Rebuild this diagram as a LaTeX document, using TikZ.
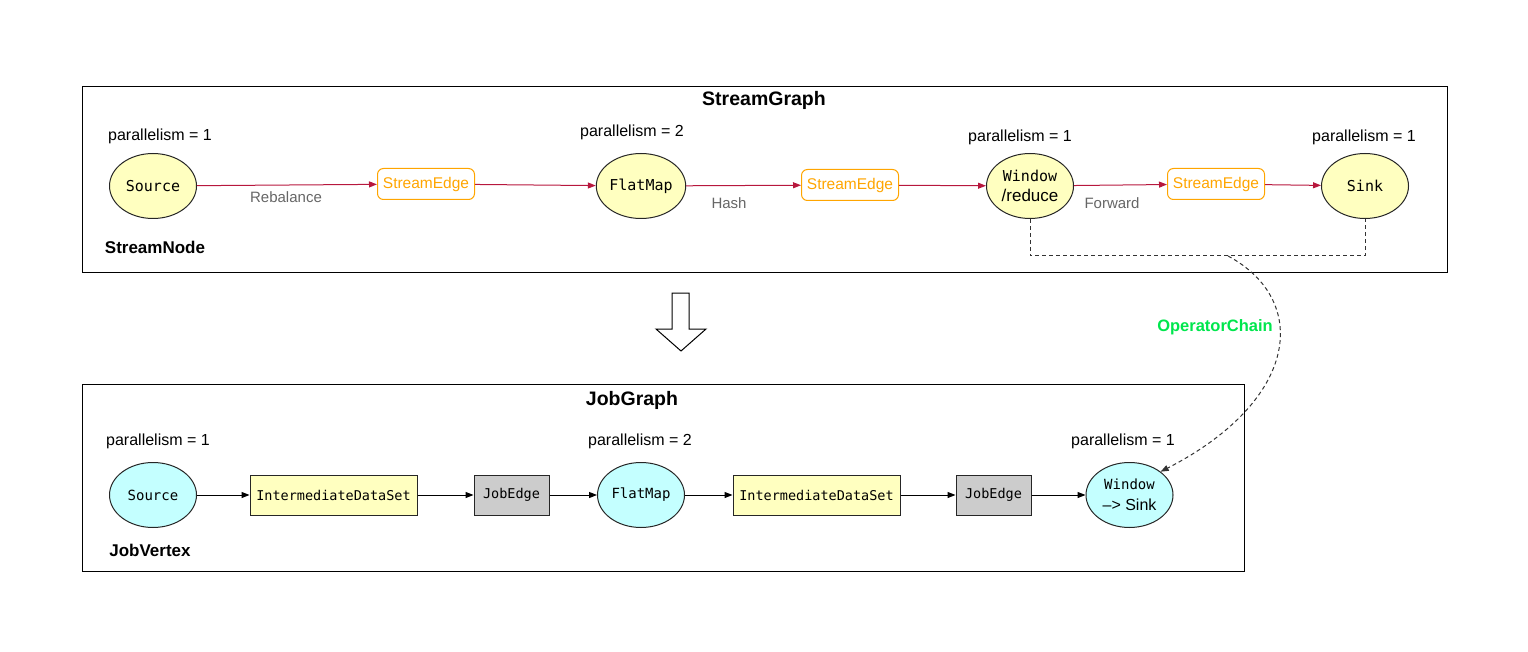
\documentclass[tikz,border=0pt]{standalone}
\usepackage{fontspec}
\setmainfont{Liberation Sans}
\setmonofont{DejaVu Sans Mono}
\usetikzlibrary{shapes.geometric,arrows.meta}

\definecolor{nodeyellow}{HTML}{FFFFC0}
\definecolor{nodecyan}{HTML}{C4FFFF}
\definecolor{edgegray}{HTML}{CCCCCC}
\definecolor{edgeorange}{HTML}{FFA500}
\definecolor{flowred}{HTML}{B7173D}
\definecolor{chaingreen}{HTML}{00E64D}

\begin{document}
\begin{tikzpicture}[x=1pt,y=-1pt,line width=1pt,
    ptext/.style={font=\fontsize{16}{19}\selectfont},
    title/.style={font=\fontsize{19.5}{23}\selectfont\bfseries},
    kind/.style={font=\fontsize{17}{20}\selectfont\bfseries},
    elabel/.style={text=black!60,font=\fontsize{15}{18}\selectfont},
    snode/.style={ellipse,draw=black!85,fill=nodeyellow,minimum width=87pt,
      minimum height=65pt,inner sep=0pt,font=\fontsize{15}{20}\selectfont\ttfamily},
    jvertex/.style={snode,fill=nodecyan,font=\fontsize{14}{21}\selectfont\ttfamily},
    sedge/.style={rectangle,rounded corners=6pt,draw=edgeorange,text=edgeorange,
      minimum width=97pt,minimum height=31pt,inner sep=0pt,font=\fontsize{15.5}{18}\selectfont},
    dataset/.style={rectangle,draw=black!85,fill=nodeyellow,minimum width=167pt,
      minimum height=40pt,inner sep=0pt,font=\fontsize{13.5}{16}\selectfont\ttfamily},
    jedge/.style={dataset,fill=edgegray,minimum width=75pt},
    redarrow/.style={draw=flowred,-{Triangle[length=8pt,width=6pt]}},
    blackarrow/.style={draw=black,-{Triangle[length=8pt,width=6pt]}},
    chainline/.style={draw=black!80,dash pattern=on 4pt off 3pt}]

  \useasboundingbox (0,0) rectangle (1528,652);

  % StreamGraph
  \draw (82,87) rectangle (1447,273);
  \node[title] (sgtitle) at (764,100) {StreamGraph};

  \node[ptext] (psrc) at (160,136) {parallelism = 1};
  \node[snode] (src) at (153,186) {Source};
  \node[sedge] (se1) at (426,184) {StreamEdge};
  \node[ptext] (pflat) at (632,132) {parallelism = 2};
  \node[snode] (flat) at (641,186) {FlatMap};
  \node[sedge] (se2) at (850,185) {StreamEdge};
  \node[ptext] (pwin) at (1020,137) {parallelism = 1};
  \node[snode,align=center] (win) at (1030,186)
    {Window\\{\rmfamily\fontsize{17}{20}\selectfont /reduce}};
  \node[sedge] (se3) at (1216,184) {StreamEdge};
  \node[ptext] (psink) at (1364,137) {parallelism = 1};
  \node[snode] (sink) at (1365,186) {Sink};
  \node[kind] (snodelbl) at (155,247) {StreamNode};

  \draw[redarrow] (src) -- (se1);
  \draw[redarrow] (se1) -- (flat);
  \draw[redarrow] (flat) -- (se2);
  \draw[redarrow] (se2) -- (win);
  \draw[redarrow] (win) -- (se3);
  \draw[redarrow] (se3) -- (sink);

  \node[elabel] (lreb) at (286,197) {Rebalance};
  \node[elabel] (lhash) at (729,203) {Hash};
  \node[elabel] (lfwd) at (1112,203) {Forward};

  % chain of window and sink
  \coordinate (chain) at (1228,256);
  \draw[chainline] (win.south) |- (chain) -| (sink.south);

  % transform arrow
  \draw[fill=white] (672,293) -- (689,293) -- (689,329) -- (706,329)
    -- (681,351) -- (656,329) -- (672,329) -- cycle;

  % JobGraph
  \draw (82,384) rectangle (1244,571);
  \node[title] (jgtitle) at (632,400) {JobGraph};

  \node[ptext] (pjsrc) at (158,441) {parallelism = 1};
  \node[jvertex] (jsrc) at (153,495) {Source};
  \node[dataset] (ds1) at (333.5,495) {IntermediateDataSet};
  \node[jedge] (je1) at (511.5,495) {JobEdge};
  \node[ptext] (pjflat) at (640,441) {parallelism = 2};
  \node[jvertex] (jflat) at (641,495) {FlatMap};
  \node[dataset] (ds2) at (816.5,495) {IntermediateDataSet};
  \node[jedge] (je2) at (993.5,495) {JobEdge};
  \node[ptext] (pjwin) at (1123,441) {parallelism = 1};
  \node[jvertex,align=center] (jwin) at (1129.5,495)
    {Window\\{\rmfamily\fontsize{16}{21}\selectfont \textendash> Sink}};
  \node[kind] (jvertlbl) at (150,550) {JobVertex};

  \draw[blackarrow] (jsrc) -- (ds1);
  \draw[blackarrow] (ds1) -- (je1);
  \draw[blackarrow] (je1) -- (jflat);
  \draw[blackarrow] (jflat) -- (ds2);
  \draw[blackarrow] (ds2) -- (je2);
  \draw[blackarrow] (je2) -- (jwin);

  % operator chain
  \draw[chainline,-{Triangle[length=8pt,width=6pt]}] (chain)
    .. controls (1310,300) and (1300,400) .. (jwin.north east);
  \node[text=chaingreen,font=\fontsize{16.5}{20}\selectfont\bfseries] (lchain)
    at (1215,327) {OperatorChain};

\end{tikzpicture}
\end{document}
